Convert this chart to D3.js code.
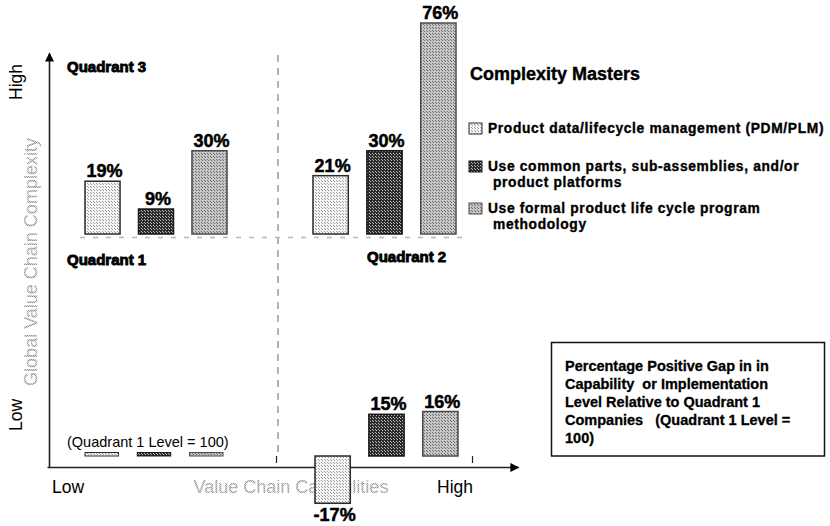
<!DOCTYPE html>
<html>
<head>
<meta charset="utf-8">
<script src="https://cdn.jsdelivr.net/npm/d3@7"></script>
<style>
  html, body { margin: 0; padding: 0; background: #fff; }
  svg { display: block; }
  text { font-family: "Liberation Sans", Arial, Helvetica, sans-serif; }
</style>
</head>
<body>
<svg id="chart" width="830" height="526"></svg>
<script>
// ---- data -------------------------------------------------------------
const series = [
  "Product data/lifecycle management (PDM/PLM)",
  "Use common parts, sub-assemblies, and/or product platforms",
  "Use formal product life cycle program methodology"
];
const legendLines = [
  ["Product data/lifecycle management (PDM/PLM)"],
  ["Use common parts, sub-assemblies, and/or", "product platforms"],
  ["Use formal product life cycle program", "methodology"]
];
const quadrant3 = [19, 9, 30];        // high complexity, low capability
const quadrant2 = [21, 30, 76];       // high complexity, high capability
const lowComplexityHigh = [-17, 15, 16]; // low complexity, high capability
const quadrant1Level = [0, 0, 0];     // reference level (= 100)
const quadrantNames = ["Quadrant 3", "Quadrant 1", "Quadrant 2"];
const axisEnds = ["Low", "High"];
const noteLines = [
  "Percentage Positive Gap in in",
  "Capability  or Implementation",
  "Level Relative to Quadrant 1",
  "Companies   (Quadrant 1 Level =",
  "100)"
];

// ---- setup ------------------------------------------------------------
const svg = d3.select("#chart");
const defs = svg.append("defs");

function stipple(id, bg, dot, size) {
  const p = defs.append("pattern")
    .attr("id", id).attr("patternUnits", "userSpaceOnUse")
    .attr("width", size).attr("height", size);
  p.append("rect").attr("width", size).attr("height", size).attr("fill", bg);
  p.append("rect").attr("width", 1).attr("height", 1).attr("fill", dot);
  p.append("rect").attr("x", Math.floor(size / 2)).attr("y", Math.floor(size / 2))
    .attr("width", 1).attr("height", 1).attr("fill", dot);
}
stipple("fill-pdm", "#f6f6f6", "#9a9a9a", 3);
stipple("fill-parts", "#2c2c2c", "#b8b8b8", 3);
stipple("fill-formal", "#c6c6c6", "#6c6c6c", 3);
stipple("fill-faded", "#d4d4d4", "#8e8e8e", 2);

const fills = d3.scaleOrdinal().domain(series)
  .range(["url(#fill-pdm)", "url(#fill-parts)", "url(#fill-formal)"]);
const strokes = d3.scaleOrdinal().domain(series)
  .range(["#2a2a2a", "#1a1a1a", "#4a4a4a"]);

// value scales: same px-per-percent for both panels
const yUpper = d3.scaleLinear().domain([0, 76]).range([234, 23]);
const yLower = d3.scaleLinear().domain([0, 16]).range([456, 411.5]);

// quadrant axes (capability / complexity, 0 = low, 1 = high)
const xCap = d3.scaleLinear().domain([0, 1]).range([47, 518]);
const yCmp = d3.scaleLinear().domain([0, 1]).range([467, 53]);

// ---- axis titles (drawn first so the bars sit over them) --------------
svg.append("text").attr("x", 52).attr("y", 493).attr("font-size", 17.5).text(axisEnds[0]);
svg.append("text").attr("x", 437).attr("y", 493).attr("font-size", 17.5).text(axisEnds[1]);
svg.append("text").attr("x", 291).attr("y", 493).attr("text-anchor", "middle")
  .attr("font-size", 18).attr("fill", "url(#fill-faded)")
  .text("Value Chain Capabilities");

svg.append("text").attr("transform", "translate(22,82) rotate(-90)")
  .attr("text-anchor", "middle").attr("font-size", 17.5).text(axisEnds[1]);
svg.append("text").attr("transform", "translate(22,415) rotate(-90)")
  .attr("text-anchor", "middle").attr("font-size", 17.5).text(axisEnds[0]);
svg.append("text").attr("transform", "translate(37,262) rotate(-90)")
  .attr("text-anchor", "middle").attr("font-size", 18).attr("fill", "url(#fill-faded)")
  .text("Global Value Chain Complexity");

// ---- dividers ---------------------------------------------------------
svg.append("line")
  .attr("x1", 278).attr("x2", 278).attr("y1", 55).attr("y2", 452)
  .attr("stroke", "#b4b4b4").attr("stroke-width", 2)
  .attr("stroke-dasharray", "7,6");
svg.append("line")
  .attr("x1", 80).attr("x2", 468).attr("y1", 237.5).attr("y2", 237.5)
  .attr("stroke", "#b8b8b8").attr("stroke-width", 1.5)
  .attr("stroke-dasharray", "5,8");
svg.append("line").attr("x1", 276.5).attr("x2", 276.5).attr("y1", 456).attr("y2", 463)
  .attr("stroke", "#222").attr("stroke-width", 1.2);
svg.append("line").attr("x1", 472.5).attr("x2", 472.5).attr("y1", 456).attr("y2", 463)
  .attr("stroke", "#222").attr("stroke-width", 1.2);

// ---- axes -------------------------------------------------------------
defs.append("marker").attr("id", "arrow")
  .attr("viewBox", "0 0 10 10").attr("refX", 9).attr("refY", 5)
  .attr("markerUnits", "userSpaceOnUse")
  .attr("markerWidth", 10).attr("markerHeight", 9).attr("orient", "auto")
  .append("path").attr("d", "M0,0 L10,5 L0,10 Z").attr("fill", "#000");

const gx = svg.append("g").attr("transform", `translate(0,${yCmp(0)})`)
  .call(d3.axisBottom(xCap).tickValues([]).tickSizeOuter(0));
gx.select(".domain").attr("stroke", "#222").attr("stroke-width", 1.6).attr("marker-end", "url(#arrow)");

const gy = svg.append("g").attr("transform", `translate(${49},0)`)
  .call(d3.axisLeft(yCmp).tickValues([]).tickSizeOuter(0));
gy.select(".domain").attr("stroke", "#222").attr("stroke-width", 1.6).attr("marker-end", "url(#arrow)");

// ---- bars -------------------------------------------------------------
const groups = [
  { values: quadrant3, range: [85, 227], y: yUpper },
  { values: quadrant2, range: [313, 456], y: yUpper },
  { values: lowComplexityHigh, range: [315, 458], y: yLower }
];

groups.forEach(g => {
  const x = d3.scaleBand().domain(series).range(g.range).paddingInner(0.345).paddingOuter(0);
  const rows = series.map((s, i) => ({ s, v: g.values[i] }));
  const gg = svg.append("g");
  gg.selectAll("rect").data(rows).join("rect")
    .attr("x", d => x(d.s))
    .attr("y", d => Math.min(g.y(d.v), g.y(0)))
    .attr("width", x.bandwidth())
    .attr("height", d => Math.abs(g.y(d.v) - g.y(0)))
    .attr("fill", d => fills(d.s))
    .attr("stroke", d => strokes(d.s))
    .attr("stroke-width", 1.5);
  gg.selectAll("text").data(rows).join("text")
    .attr("x", d => x(d.s) + x.bandwidth() / 2 + 2)
    .attr("y", d => d.v >= 0 ? g.y(d.v) - 4 : g.y(d.v) + 18)
    .attr("text-anchor", "middle")
    .attr("font-size", 18).attr("font-weight", "bold")
    .attr("stroke", "#000").attr("stroke-width", 0.5)
    .text(d => d.v + "%");
});

// Quadrant 1 reference swatches (flat bars at the zero level)
{
  const x = d3.scaleBand().domain(series).range([85, 223]).paddingInner(0.36).paddingOuter(0);
  const rows = series.map((s, i) => ({ s, v: quadrant1Level[i] }));
  svg.append("g").selectAll("rect").data(rows).join("rect")
    .attr("x", d => x(d.s))
    .attr("y", d => yLower(d.v) - 3.5)
    .attr("width", x.bandwidth())
    .attr("height", 3.5)
    .attr("fill", d => fills(d.s))
    .attr("stroke", d => strokes(d.s))
    .attr("stroke-width", 1);
  svg.append("text").attr("x", 67).attr("y", 447)
    .attr("font-size", 14.5).text("(Quadrant 1 Level = 100)");
}

// ---- quadrant names ---------------------------------------------------
const qPos = [[67, 72], [67, 265], [367, 262]];
svg.append("g").selectAll("text").data(quadrantNames).join("text")
  .attr("x", (d, i) => qPos[i][0]).attr("y", (d, i) => qPos[i][1])
  .attr("font-size", 15).attr("font-weight", "bold")
  .attr("stroke", "#000").attr("stroke-width", 0.9)
  .text(d => d);

// ---- legend -----------------------------------------------------------
svg.append("text").attr("x", 470).attr("y", 80)
  .attr("font-size", 18).attr("font-weight", "bold")
  .attr("stroke", "#000").attr("stroke-width", 0.4)
  .text("Complexity Masters");

const legendY = [133, 171, 213];
const leg = svg.append("g").selectAll("g").data(series).join("g")
  .attr("transform", (d, i) => `translate(0,${legendY[i]})`);
leg.append("rect").attr("x", 469).attr("y", -10).attr("width", 13).attr("height", 11)
  .attr("fill", d => fills(d)).attr("stroke", d => strokes(d)).attr("stroke-width", 1);
leg.each(function (d, i) {
  d3.select(this).selectAll("text").data(legendLines[i]).join("text")
    .attr("x", (t, j) => j === 0 ? 488 : 493)
    .attr("y", (t, j) => j * 15.6)
    .attr("font-size", 13.8).attr("font-weight", "bold")
    .attr("letter-spacing", 0.65)
    .attr("stroke", "#000").attr("stroke-width", 0.35)
    .text(t => t);
});

// ---- note box ---------------------------------------------------------
svg.append("rect").attr("x", 551.5).attr("y", 342.5).attr("width", 273).attr("height", 113.5)
  .attr("fill", "#fff").attr("stroke", "#111").attr("stroke-width", 1.5);
svg.append("g").selectAll("text").data(noteLines).join("text")
  .attr("x", 565).attr("y", (d, i) => 371 + i * 18)
  .attr("font-size", 14.5).attr("font-weight", "bold")
  .attr("stroke", "#000").attr("stroke-width", 0.3)
  .style("white-space", "pre")
  .text(d => d);
</script>
</body>
</html>
